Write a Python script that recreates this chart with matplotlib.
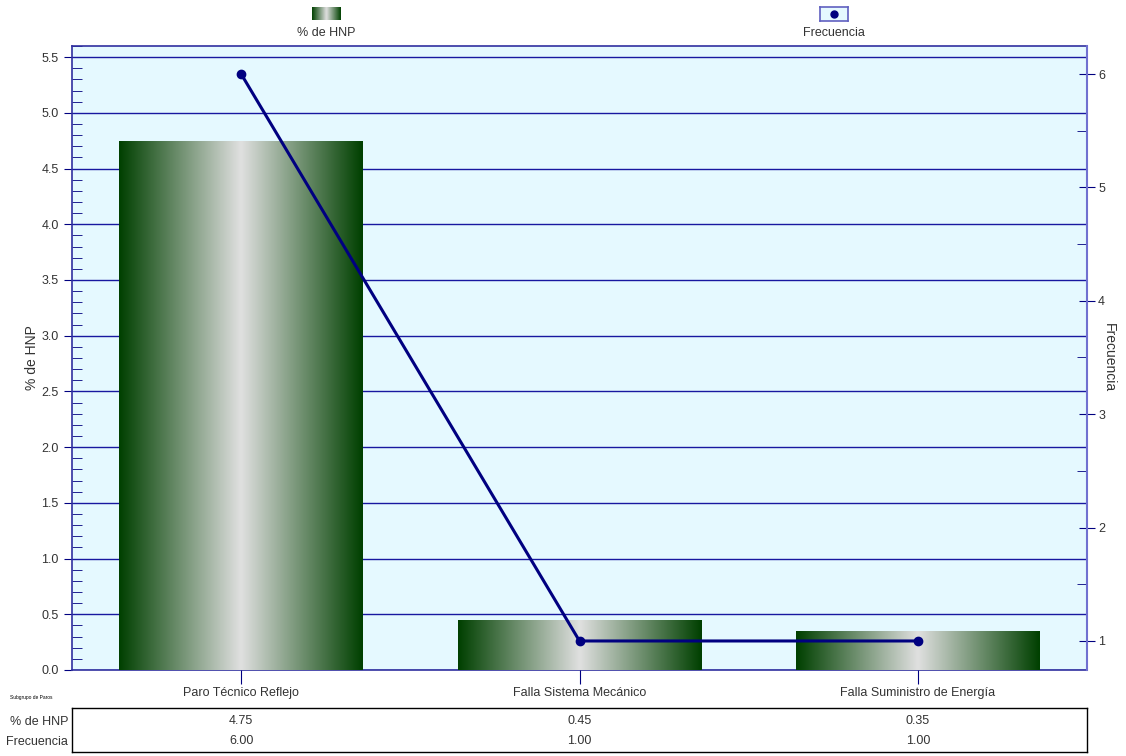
import numpy as np
import matplotlib
matplotlib.use("Agg")
import matplotlib.pyplot as plt
from matplotlib.colors import LinearSegmentedColormap
from matplotlib.ticker import MultipleLocator

categories = ["Paro Técnico Reflejo", "Falla Sistema Mecánico", "Falla Suministro de Energía"]
pct_hnp = [4.75, 0.45, 0.35]
frecuencia = [6, 1, 1]
pct_labels = ["4.75", "0.45", "0.35"]
frec_labels = ["6.00", "1.00", "1.00"]

plt.rcParams['font.family'] = ['Liberation Sans', 'DejaVu Sans']

W, H = 1126, 756
fig = plt.figure(figsize=(W/100, H/100), dpi=100)
navy = '#000080'
gridc = '#1818A0'
frame = '#3030A0'
bg = '#E5F9FF'
txt = '#333333'

def fx(px): return px / W
def fy(py): return 1 - py / H

ax = fig.add_axes([fx(72), fy(670), fx(1087) - fx(72), fy(46) - fy(670)])
ax.set_facecolor(bg)

cmap = LinearSegmentedColormap.from_list('g', ['#004000', '#E0E0E0', '#004000'])
grad = np.linspace(0, 1, 256).reshape(1, -1)

x = np.arange(len(categories))
bw = 0.72
bars = ax.bar(x, pct_hnp, width=bw, color='none', edgecolor='none', zorder=3)
for b in bars:
    x0, y0, w, h = b.get_x(), b.get_y(), b.get_width(), b.get_height()
    im = ax.imshow(grad, cmap=cmap, aspect='auto', extent=[x0, x0 + w, y0, y0 + h],
                   zorder=3, interpolation='bicubic')
    im.set_clip_path(b)
ax.set_xlim(-0.5, 2.5)
ax.set_ylim(0, 5.6)

ax.yaxis.set_major_locator(MultipleLocator(0.5))
ax.yaxis.set_minor_locator(MultipleLocator(0.1))
ax.yaxis.set_major_formatter(matplotlib.ticker.FormatStrFormatter('%.1f'))
ax.grid(axis='y', which='major', color=gridc, linewidth=1.0, zorder=1)
ax.set_axisbelow(True)
ax.tick_params(axis='y', which='major', direction='out', length=6, color=navy, labelsize=9, labelcolor=txt)
ax.tick_params(axis='y', which='minor', direction='in', length=7, color=navy)
ax.set_xticks(x)
ax.set_xticklabels(categories)
ax.tick_params(axis='x', direction='inout', length=20, color=navy, labelsize=9, pad=2, labelcolor=txt)
ax.set_ylabel('% de HNP', fontsize=10, color=txt, labelpad=2)
for s in ax.spines.values():
    s.set_color(frame)
    s.set_linewidth(1.2)

ax2 = ax.twinx()
ax2.set_ylim(0.744, 6.247)
ax2.plot(x, frecuencia, color=navy, linewidth=2.2, marker='o', markersize=6, zorder=5)
ax2.yaxis.set_major_locator(MultipleLocator(1))
ax2.yaxis.set_minor_locator(MultipleLocator(0.5))
ax2.tick_params(axis='y', which='major', direction='inout', length=12, color=navy, labelsize=9, labelcolor=txt, pad=2)
ax2.tick_params(axis='y', which='minor', direction='in', length=7, color=navy)
ax2.set_ylabel('Frecuencia', fontsize=10, rotation=-90, labelpad=8, color=txt)
ax2.spines['right'].set_color('#7070D0')
ax2.spines['right'].set_linewidth(1.5)
for k in ['left', 'top', 'bottom']:
    ax2.spines[k].set_visible(False)

# table
tax = fig.add_axes([fx(72), fy(752), fx(1087) - fx(72), fy(708) - fy(752)])
tax.set_xlim(-0.5, 2.5)
tax.set_ylim(0, 2)
tax.set_xticks([]); tax.set_yticks([])
for s in tax.spines.values():
    s.set_color('black'); s.set_linewidth(1.0)
for i in range(len(categories)):
    tax.text(x[i], 1.4, pct_labels[i], ha='center', va='center', fontsize=9, color=txt)
    tax.text(x[i], 0.5, frec_labels[i], ha='center', va='center', fontsize=9, color=txt)
fig.text(fx(68), fy(722), '% de HNP', ha='right', va='center', fontsize=9, color=txt)
fig.text(fx(68), fy(742), 'Frecuencia', ha='right', va='center', fontsize=9, color=txt)
fig.text(fx(10), fy(698), 'Subgrupo de Paros', ha='left', va='center', fontsize=3.5, color='black')

# legend
lax1 = fig.add_axes([fx(312), fy(20), fx(341) - fx(312), fy(7) - fy(20)])
lax1.imshow(grad, cmap=cmap, aspect='auto', interpolation='bicubic')
lax1.axis('off')
fig.text(fx(326), fy(33), '% de HNP', ha='center', va='center', fontsize=9, color=txt)

lax2 = fig.add_axes([fx(820), fy(21), fx(848) - fx(820), fy(7) - fy(21)])
lax2.set_facecolor(bg)
lax2.set_xlim(0, 1); lax2.set_ylim(0, 1)
lax2.plot([0.5], [0.5], 'o', color=navy, markersize=5)
lax2.set_xticks([]); lax2.set_yticks([])
for s in lax2.spines.values():
    s.set_color('#6060C0'); s.set_linewidth(1.2)
fig.text(fx(834), fy(33), 'Frecuencia', ha='center', va='center', fontsize=9, color=txt)

fig.savefig('out.png', dpi=100)
